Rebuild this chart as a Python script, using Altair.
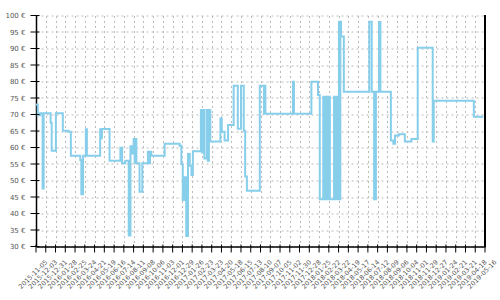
import altair as alt
import pandas as pd

dates = [
    "2015-11-05", "2015-11-10", "2015-11-17", "2015-11-24", "2015-11-27", "2015-12-17", "2015-12-20",
    "2016-01-01", "2016-01-21", "2016-02-06", "2016-02-13", "2016-03-11", "2016-03-14", "2016-03-16",
    "2016-03-17", "2016-03-19", "2016-03-27", "2016-03-30", "2016-05-07", "2016-05-10", "2016-05-12",
    "2016-06-03", "2016-07-04", "2016-07-09", "2016-07-18", "2016-07-28", "2016-08-02", "2016-08-07",
    "2016-08-11", "2016-08-14", "2016-08-16", "2016-08-19", "2016-08-28", "2016-09-05", "2016-09-21",
    "2016-09-24", "2016-09-27", "2016-10-01", "2016-11-08", "2016-12-21", "2016-12-26", "2016-12-30",
    "2017-01-04", "2017-01-09", "2017-01-14", "2017-01-19", "2017-01-24", "2017-01-28", "2017-02-20",
    "2017-02-23", "2017-02-26", "2017-03-02", "2017-03-09", "2017-03-12", "2017-03-15", "2017-03-19",
    "2017-04-17", "2017-04-21", "2017-04-29", "2017-05-09", "2017-05-25", "2017-06-06", "2017-06-15",
    "2017-06-23", "2017-06-27", "2017-07-02", "2017-08-08", "2017-08-20", "2017-08-22", "2017-08-24",
    "2017-11-11", "2017-11-14", "2018-01-03", "2018-01-22", "2018-01-27", "2018-02-06", "2018-02-08",
    "2018-02-10", "2018-02-12", "2018-02-14", "2018-02-16", "2018-02-18", "2018-02-20", "2018-02-22",
    "2018-02-25", "2018-03-09", "2018-03-11", "2018-03-13", "2018-03-15", "2018-03-17", "2018-03-19",
    "2018-03-21", "2018-03-23", "2018-03-25", "2018-03-27", "2018-03-29", "2018-04-06", "2018-06-18",
    "2018-06-25", "2018-07-02", "2018-07-07", "2018-07-16", "2018-07-20", "2018-08-19", "2018-08-26",
    "2018-08-31", "2018-09-11", "2018-09-28", "2018-10-17", "2018-11-04", "2018-12-17", "2018-12-20",
    "2019-04-14", "2019-05-11",
]
prices = [
    73.0, 69.8, 70.4, 47.6, 70.4, 67.5, 59.0,
    70.4, 65.1, 64.8, 57.5, 56.2, 45.8, 56.2,
    45.8, 57.5, 65.5, 57.5, 65.5, 62.8, 65.6,
    56.0, 59.9, 55.2, 56.0, 33.3, 60.4, 58.2,
    62.6, 55.2, 62.6, 55.2, 46.6, 55.2, 58.7,
    55.2, 58.7, 57.5, 61.1, 60.5, 54.9, 44.1,
    51.0, 33.2, 58.0, 54.5, 51.7, 58.9, 71.4,
    58.5, 71.4, 56.7, 71.4, 56.0, 71.4, 61.8,
    68.8, 64.8, 62.1, 66.8, 78.7, 65.7, 78.7,
    65.1, 51.2, 46.9, 78.7, 70.2, 78.7, 70.2,
    79.9, 70.2, 79.9, 75.9, 44.3, 75.4, 44.3,
    75.4, 44.3, 75.4, 44.3, 75.4, 44.3, 75.4,
    44.3, 75.4, 44.3, 75.4, 44.3, 75.4, 44.3,
    75.4, 98.1, 44.3, 98.1, 93.6, 76.9, 98.1,
    76.9, 44.3, 76.9, 98.0, 76.9, 62.1, 61.1,
    63.6, 64.0, 61.8, 62.6, 90.2, 61.8, 74.2,
    69.3, 69.3,
]

tick_dates = [
    "2015-11-05", "2015-12-03", "2015-12-31", "2016-01-28", "2016-02-25", "2016-03-24", "2016-04-21",
    "2016-05-19", "2016-06-16", "2016-07-14", "2016-08-11", "2016-09-08", "2016-10-06", "2016-11-03",
    "2016-12-01", "2016-12-29", "2017-01-26", "2017-02-23", "2017-03-23", "2017-04-20", "2017-05-18",
    "2017-06-15", "2017-07-13", "2017-08-10", "2017-09-07", "2017-10-05", "2017-11-02", "2017-11-30",
    "2017-12-28", "2018-01-25", "2018-02-22", "2018-03-22", "2018-04-19", "2018-05-17", "2018-06-14",
    "2018-07-12", "2018-08-09", "2018-09-06", "2018-10-04", "2018-11-01", "2018-11-29", "2018-12-27",
    "2019-01-24", "2019-02-21", "2019-03-21", "2019-04-18", "2019-05-16",
]
y_ticks = [30, 35, 40, 45, 50, 55, 60, 65, 70, 75, 80, 85, 90, 95, 100]

W, H = 449, 231


def dt(s):
    y, m, d = (int(p) for p in s.split("-"))
    return alt.DateTime(year=y, month=m, date=d, utc=True)


df = pd.DataFrame({"date": dates, "price": prices})
xt_df = pd.DataFrame({"date": tick_dates})
yt_df = pd.DataFrame({"price": y_ticks})

xscale = alt.Scale(type="utc", domain=[dt(tick_dates[0]), dt(tick_dates[-1])])
yscale = alt.Scale(domain=[30, 100], nice=False, zero=False)

font = "DejaVu Sans"

x_axis = alt.Axis(
    values=[dt(s) for s in tick_dates], format="%Y-%m-%d", labelAngle=-45,
    labelAlign="right", labelBaseline="top", labelOverlap=False,
    labelBound=False, labelFlush=False, labelPadding=12, labelOffset=8,
    labelFontSize=6.5, ticks=False, grid=True, title=None,
)
y_axis = alt.Axis(
    values=y_ticks, labelExpr="datum.value + ' €'", labelOverlap=False,
    labelPadding=11, labelFontSize=7, ticks=False, grid=True, title=None,
)

line = alt.Chart(df).mark_line(
    interpolate="step-after", color="#87CEEB", strokeWidth=2
).encode(
    x=alt.X("date:T", scale=xscale, axis=x_axis),
    y=alt.Y("price:Q", scale=yscale, axis=y_axis),
)

xticks = alt.Chart(xt_df).mark_rule(color="black", strokeWidth=1).encode(
    x=alt.X("date:T", scale=xscale, axis=x_axis),
    y=alt.value(H - 2), y2=alt.value(H + 6),
)
yticks = alt.Chart(yt_df).mark_rule(color="black", strokeWidth=1).encode(
    y=alt.Y("price:Q", scale=yscale, axis=y_axis),
    x=alt.value(-5.5), x2=alt.value(3.5),
)
right_border = alt.Chart(yt_df).mark_rule(color="black", strokeWidth=1.5).encode(
    x=alt.value(W), y=alt.value(0), y2=alt.value(H),
)

chart = alt.layer(line, xticks, yticks, right_border).properties(
    width=W, height=H,
    autosize=alt.AutoSizeParams(type="none"),
    padding={"left": 36, "top": 15.5, "right": 15, "bottom": 53.5},
).configure_view(strokeWidth=0).configure_axis(
    gridColor="#bbbbbb", gridDash=[2, 3], gridWidth=1,
    domainColor="black", domainWidth=1.5,
    labelColor="#555555", labelFont=font,
)

chart.save("out.html", embed_options={"renderer": "svg", "actions": False})
